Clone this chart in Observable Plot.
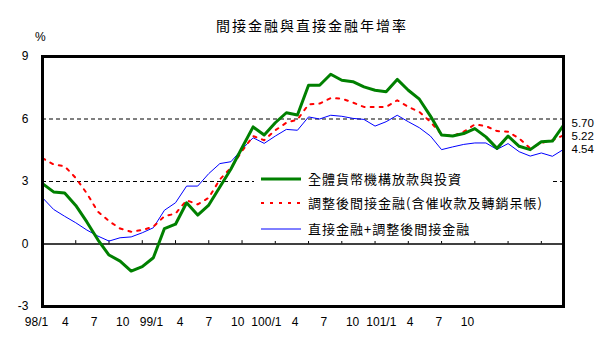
<!DOCTYPE html>
<html><head><meta charset="utf-8">
<script src="https://cdn.jsdelivr.net/npm/d3@7"></script>
<script src="https://cdn.jsdelivr.net/npm/@observablehq/plot@0.6"></script>
<style>
body{margin:0;background:#fff;}
#wrap{position:relative;width:605px;height:352px;background:#fff;}
.abs{position:absolute;white-space:nowrap;}
#title{left:216px;top:16px;font:14px/18px "Noto Sans CJK TC",sans-serif;letter-spacing:2px;color:#000;}
#pct{left:35px;top:30px;font:12px/14px "Liberation Sans",sans-serif;}
#legend{left:254px;top:167px;width:297px;height:74px;background:#fff;}
.row{position:absolute;left:0;height:20px;display:flex;align-items:center;}
.row span{font:13px/20px "Noto Sans CJK TC",sans-serif;letter-spacing:1px;margin-left:4px;color:#000;}
</style></head><body><div id="wrap"></div>
<script>
const title = "間接金融與直接金融年增率";
const seriesNames = ["全體貨幣機構放款與投資", "調整後間接金融(含催收款及轉銷呆帳)", "直接金融+調整後間接金融"];
const seriesColors = ["#008000", "#ff0000", "#0000ff"];
const monthLabels = ["98/1","4","7","10","99/1","4","7","10","100/1","4","7","10","101/1","4","7","10"];
const yTicks = [-3, 0, 3, 6, 9];
// 98/1 .. 101/12 monthly
const loans = [2.9,2.5,2.45,1.85,1.06,0.2,-0.53,-0.82,-1.3,-1.09,-0.66,0.74,
  0.95,1.98,1.39,1.87,2.74,3.6,4.62,5.62,5.23,5.82,6.3,6.19,
  7.62,7.62,8.15,7.86,7.79,7.54,7.38,7.31,7.9,7.38,6.95,6.14,
  5.23,5.18,5.3,5.54,5.14,4.59,5.18,4.69,4.53,4.91,4.94,5.70];
const indirect = [4.12,3.82,3.73,3.17,2.43,1.55,1.1,0.74,0.59,0.67,0.83,1.33,
  1.46,2.1,1.9,2.22,3.1,3.66,4.46,5.18,4.98,5.46,5.82,5.97,
  6.7,6.74,7.0,6.98,6.79,6.58,6.58,6.58,6.9,6.58,6.34,5.86,
  5.26,5.18,5.39,5.74,5.66,5.42,5.39,5.07,4.59,4.85,4.98,5.22];
const total = [2.22,1.66,1.33,1.02,0.67,0.38,0.14,0.3,0.34,0.54,0.78,1.62,
  1.98,2.78,2.78,3.38,3.86,3.95,4.55,5.1,4.83,5.18,5.5,5.46,
  6.1,6.0,6.18,6.13,6.03,5.98,5.66,5.87,6.18,5.87,5.58,5.18,
  4.53,4.66,4.78,4.85,4.85,4.54,4.82,4.43,4.22,4.37,4.21,4.54];

const n = loans.length;
const rows = d3.range(n).map(i => ({i, loans: loans[i], indirect: indirect[i], total: total[i]}));
const endValues = [loans[n-1], indirect[n-1], total[n-1]];
const endNudge = [-2, 1, 0];

const plot = Plot.plot({
  width: 605, height: 352,
  marginTop: 56, marginBottom: 46, marginLeft: 42, marginRight: 42,
  x: {domain: [0, n - 1], axis: null},
  y: {domain: [-3, 9], ticks: yTicks, tickSize: 0, tickPadding: 14, label: null, tickFormat: d => String(d)},
  style: {fontFamily: "Liberation Sans, sans-serif", fontSize: "12px", background: "white", color: "black"},
  marks: [
    Plot.ruleY([3, 6], {stroke: "black", strokeDasharray: "4,3"}),
    Plot.ruleY([0], {stroke: "black", strokeWidth: 1.5}),
    Plot.ruleX(d3.range(3, n, 3), {y1: 0, y2: 0.16, stroke: "black"}),
    Plot.line(rows, {x: "i", y: "total", stroke: seriesColors[2], strokeWidth: 1}),
    Plot.line(rows, {x: "i", y: "indirect", stroke: seriesColors[1], strokeWidth: 2, strokeDasharray: "3,6"}),
    Plot.line(rows, {x: "i", y: "loans", stroke: seriesColors[0], strokeWidth: 3}),
    Plot.frame({stroke: "black", strokeWidth: 3}),
    ...endValues.map((v, k) => Plot.text([v], {x: n - 1, y: d => d, text: d => d.toFixed(2), dx: 8, dy: endNudge[k], textAnchor: "start", fill: "black", fontSize: 11.5})),
    Plot.text(monthLabels, {x: (d, i) => -0.54 + 2.592 * i, frameAnchor: "bottom", dy: 19, text: d => d, fill: "black"})
  ]
});
const wrap = document.getElementById("wrap");
plot.style.position = "absolute"; plot.style.left = "0"; plot.style.top = "0";
wrap.appendChild(plot);

const t = document.createElement("div"); t.className = "abs"; t.id = "title"; t.textContent = title; wrap.appendChild(t);
const p = document.createElement("div"); p.className = "abs"; p.id = "pct"; p.textContent = "%"; wrap.appendChild(p);
const lg = document.createElement("div"); lg.className = "abs"; lg.id = "legend";
const styles = [{w: 3, dash: ""}, {w: 2, dash: "3,6"}, {w: 1, dash: ""}];
const rowTops = [2, 26, 52];
seriesNames.forEach((name, k) => {
  const r = document.createElement("div"); r.className = "row"; r.style.top = rowTops[k] + "px";
  r.innerHTML = `<svg width="50" height="20"><line x1="7" x2="47" y1="10" y2="10" stroke="${seriesColors[k]}" stroke-width="${styles[k].w}" stroke-dasharray="${styles[k].dash}"/></svg><span>${name}</span>`;
  lg.appendChild(r);
});
wrap.appendChild(lg);
</script></body></html>
